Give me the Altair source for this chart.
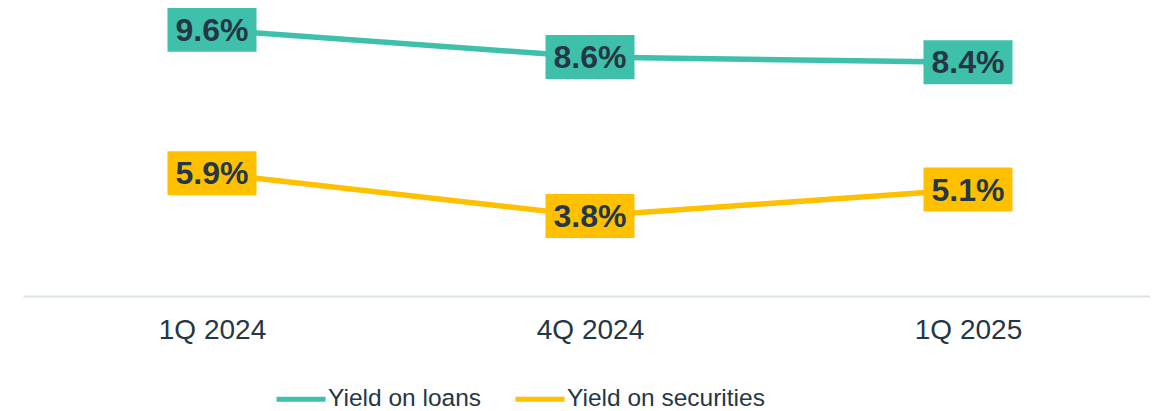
import altair as alt
import pandas as pd

quarters = ["1Q 2024", "4Q 2024", "1Q 2025"]
series_names = ["Yield on loans", "Yield on securities"]
loans = [9.6, 8.6, 8.4]
securities = [5.9, 3.8, 5.1]
series_colors = ["#3FC0AA", "#FFC000"]
text_color = "#253746"
font = "Liberation Sans"

rows = []
for q, v in zip(quarters, loans):
    rows.append({"quarter": q, "series": series_names[0], "value": v, "label": f"{v:.1f}%"})
for q, v in zip(quarters, securities):
    rows.append({"quarter": q, "series": series_names[1], "value": v, "label": f"{v:.1f}%"})
df = pd.DataFrame(rows)

box_path = "M-1,-0.4944L1,-0.4944L1,0.4944L-1,0.4944Z"

legend = alt.Legend(
    orient="none", legendX=251, legendY=364, direction="horizontal", title=None,
    symbolType="stroke", symbolSize=2401, symbolStrokeWidth=5,
    labelFontSize=24.5, labelColor=text_color, labelFont=font, labelLimit=400,
    columnPadding=23, labelOffset=0, padding=0,
)

x_enc = alt.X(
    "quarter:N", sort=quarters, title=None,
    scale=alt.Scale(type="point", range=[0, 1134], padding=0.5),
    axis=alt.Axis(labelFontSize=28, labelColor=text_color, labelFont=font,
                  domainColor="#D9E3EC", domainWidth=2, ticks=False, grid=False,
                  labelPadding=20, labelAngle=0),
)


def series_layer(name, color, domain):
    base = alt.Chart(df).transform_filter(alt.datum.series == name).encode(
        x=x_enc,
        y=alt.Y("value:Q", scale=alt.Scale(domain=domain, zero=False, nice=False), axis=None),
    )
    line = base.mark_line(strokeWidth=5.5).encode(
        color=alt.Color("series:N", scale=alt.Scale(domain=series_names, range=series_colors), legend=legend)
    )
    box = base.mark_point(shape=box_path, size=7921, filled=True, fill=color, opacity=1, strokeWidth=0)
    text = base.mark_text(font=font, fontSize=32, fontWeight="bold", color=text_color,
                          align="center", baseline="middle", dy=1).encode(text="label:N")
    return alt.layer(line, box, text)


chart = alt.layer(
    series_layer(series_names[0], series_colors[0], [-0.2, 10.4]),
    series_layer(series_names[1], series_colors[1], [-0.14, 14.04]),
).resolve_scale(y="independent").properties(
    width=1127, height=288,
    autosize=alt.AutoSizeParams(type="none"),
    padding={"left": 15, "top": 0, "right": 0, "bottom": 115},
).configure_view(stroke=None)

chart.save("out.html", embed_options={"renderer": "svg", "actions": False})
